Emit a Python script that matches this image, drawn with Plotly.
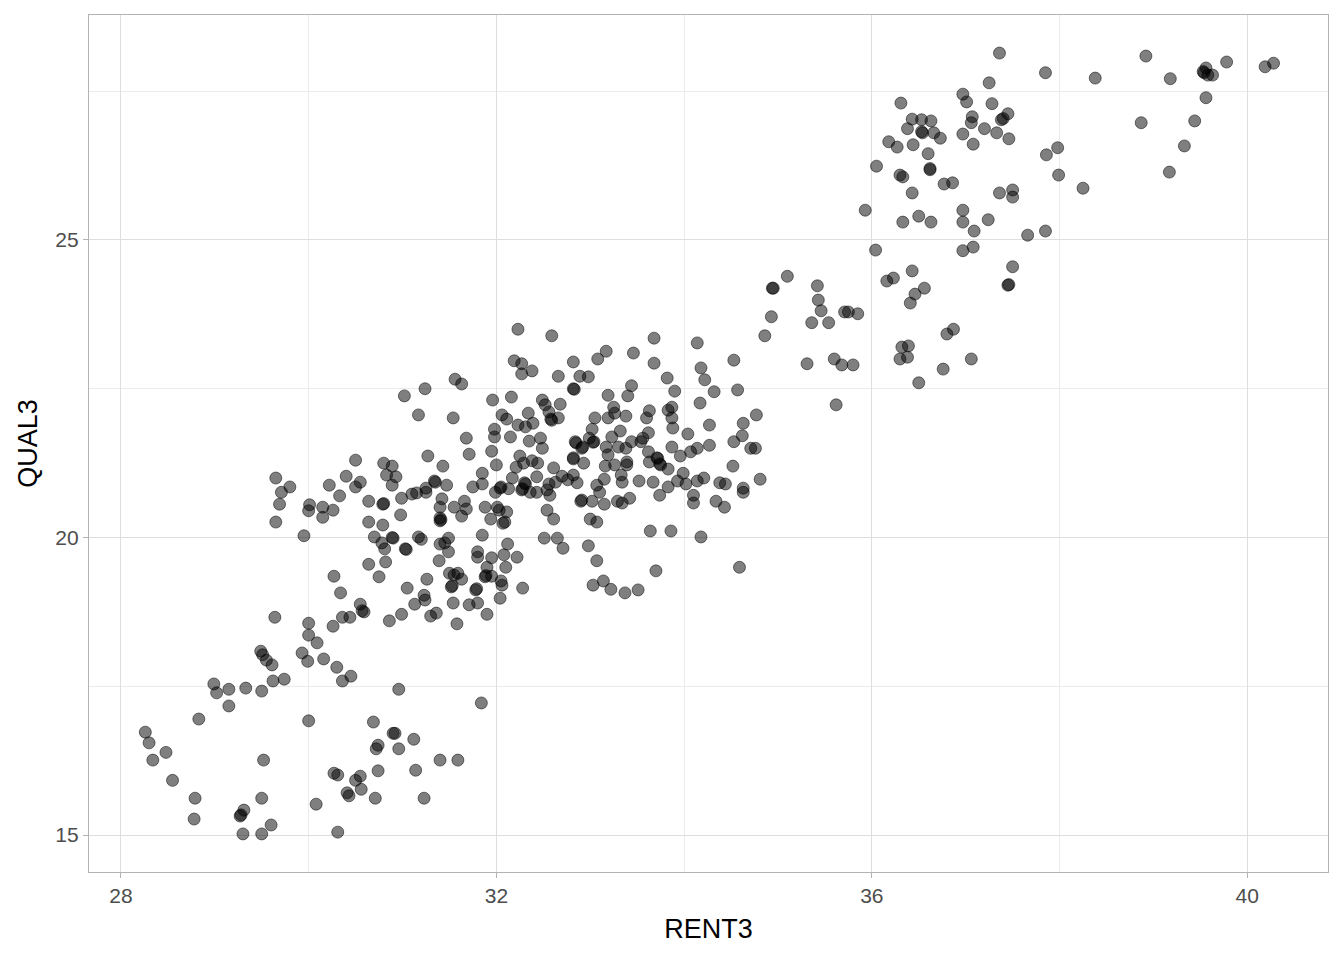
import plotly.graph_objects as go

# RENT3 / QUAL3 values, grouped by area of the plot
rent3_low = [
    29.64, 30.00, 30.00, 30.09, 29.93, 29.99, 30.16, 30.30, 30.45, 30.36,
    30.26, 30.36, 30.44, 30.55, 30.59, 30.57, 30.86, 30.99, 31.13, 31.24,
    31.30, 31.36, 31.54, 31.58, 31.71, 31.80, 31.90, 29.49, 29.51, 29.55,
    29.61, 29.62, 29.74, 28.99, 29.02, 29.15, 29.33, 29.50, 29.15, 28.83,
    30.00, 30.96, 31.84, 28.26, 28.30, 28.48, 28.34, 28.55, 29.52, 28.79,
    28.78, 29.31, 29.27, 29.28, 29.50, 29.60, 29.30, 29.50, 30.08, 30.31,
    30.69, 30.90, 30.92, 31.12, 30.74, 30.72, 30.96, 31.40, 31.59, 30.74,
    31.14, 30.27, 30.31, 30.55, 30.50, 30.56, 30.41, 30.43, 30.71, 31.23,
]
qual3_low = [
    18.66, 18.56, 18.36, 18.23, 18.06, 17.92, 17.96, 17.82, 17.67, 17.59,
    18.51, 18.66, 18.66, 18.88, 18.75, 18.77, 18.60, 18.71, 18.88, 18.95,
    18.68, 18.73, 18.90, 18.55, 18.87, 18.90, 18.71, 18.09, 18.03, 17.94,
    17.86, 17.59, 17.62, 17.54, 17.39, 17.45, 17.47, 17.42, 17.17, 16.95,
    16.92, 17.45, 17.22, 16.73, 16.55, 16.39, 16.26, 15.92, 16.26, 15.62,
    15.27, 15.42, 15.32, 15.34, 15.62, 15.17, 15.02, 15.02, 15.52, 15.05,
    16.90, 16.71, 16.71, 16.61, 16.51, 16.45, 16.45, 16.26, 16.26, 16.08,
    16.09, 16.04, 16.01, 15.99, 15.92, 15.77, 15.71, 15.66, 15.62, 15.62,
]

rent3_left = [
    31.17, 31.54, 31.02, 31.24, 31.56, 31.63, 31.68, 31.71, 31.27, 30.50,
    30.80, 30.89, 31.43, 30.83, 30.93, 30.89, 30.40, 30.55, 30.50, 30.22,
    29.65, 29.80, 29.71, 29.69, 29.65, 30.01, 30.00, 30.15, 30.26, 30.15,
    30.33, 30.64, 30.79, 30.80, 30.99, 31.10, 31.15, 31.25, 31.25, 31.34,
    31.35, 31.47, 31.42, 31.40, 31.55, 31.66, 31.68, 31.63, 31.75, 30.98,
    30.64, 30.79, 31.40, 31.40, 31.41, 29.95, 30.70, 30.78, 30.89, 30.90,
    30.81, 31.03, 31.04, 31.17, 31.20, 31.49, 31.45, 31.40, 31.49, 31.39,
    31.80, 31.80, 30.64, 30.82, 30.75, 30.27, 30.34, 31.05, 31.26, 31.23,
    31.50, 31.55, 31.59, 31.52, 31.53, 31.63, 31.78, 31.79,
]
qual3_left = [
    22.06, 22.01, 22.38, 22.50, 22.66, 22.58, 21.67, 21.40, 21.37, 21.30,
    21.25, 21.20, 21.20, 21.05, 21.02, 20.88, 21.03, 20.93, 20.85, 20.88,
    21.00, 20.85, 20.76, 20.56, 20.26, 20.55, 20.45, 20.51, 20.46, 20.34,
    20.70, 20.61, 20.56, 20.57, 20.66, 20.73, 20.75, 20.83, 20.76, 20.95,
    20.93, 20.88, 20.65, 20.51, 20.51, 20.61, 20.48, 20.36, 20.85, 20.38,
    20.26, 20.21, 20.28, 20.33, 20.30, 20.03, 20.01, 19.91, 20.00, 19.99,
    19.81, 19.81, 19.80, 20.01, 19.97, 19.99, 19.91, 19.89, 19.76, 19.61,
    19.76, 19.67, 19.55, 19.59, 19.34, 19.35, 19.07, 19.15, 19.30, 19.03,
    19.40, 19.37, 19.40, 19.17, 19.19, 19.30, 19.12, 19.14,
]

rent3_mid = [
    32.23, 32.59, 33.68, 34.14, 34.93, 34.86, 32.19, 32.27, 32.27, 32.38,
    32.82, 33.08, 33.17, 33.46, 33.68, 32.66, 32.89, 32.98, 32.82, 32.83,
    33.82, 33.90, 34.18, 34.22, 34.32, 34.53, 34.57, 34.17, 33.44, 33.40,
    33.19, 31.96, 32.16, 32.49, 32.52, 32.68, 32.56, 32.58, 32.59, 32.66,
    32.06, 32.11, 32.23, 32.31, 32.39, 32.34, 31.98, 31.98, 32.15, 31.95,
    32.00, 32.35, 32.47, 32.49, 32.25, 32.21, 32.29, 32.38, 32.44, 32.61,
    33.05, 33.02, 33.19, 33.25, 33.26, 33.38, 33.32, 33.23, 32.99, 32.84,
    32.85, 32.91, 32.92, 33.04, 33.03, 32.82, 32.82, 32.93, 33.17, 33.19,
    33.30, 33.38, 33.44, 33.39, 33.39, 33.26, 33.16, 33.54, 33.56, 33.62,
    33.60, 33.63, 33.83, 33.87, 33.87, 33.88, 34.04, 34.27, 34.27, 34.14,
    34.07, 33.96, 33.87, 33.62, 33.71, 33.72, 33.74, 33.75, 33.83, 33.63,
    34.63, 34.62, 34.53, 34.77, 34.71, 34.76, 34.52, 34.81, 34.63, 34.63,
    34.38, 34.44, 34.21, 34.14, 34.10, 34.10, 34.34, 34.43, 33.99, 33.93,
    34.02, 33.83, 33.74, 33.67, 33.52, 33.42, 33.34, 33.29, 33.15, 33.02,
    32.90, 32.91, 33.10, 33.07, 33.15, 33.33, 33.34, 32.86, 32.82, 32.76,
    32.70, 32.63, 32.56, 32.54, 32.57, 32.43, 32.30, 32.31, 32.27, 32.28,
    32.36, 32.43, 32.17, 32.04, 32.05, 32.13, 31.99, 31.85, 31.85, 31.88,
    32.01, 32.03, 32.11, 31.94, 32.09, 32.07, 32.54, 32.61, 33.00, 33.07,
    33.64, 33.86, 34.18, 32.51, 32.65, 32.71, 32.98, 33.07, 33.70, 34.59,
    32.12, 32.08, 32.22, 31.95, 32.10, 31.90, 31.88, 31.89, 31.95, 32.05,
    32.06, 32.04, 32.28, 33.03, 33.14, 33.22, 33.37, 33.51, 31.85,
]
qual3_mid = [
    23.50, 23.39, 23.35, 23.27, 23.71, 23.39, 22.97, 22.92, 22.75, 22.80,
    22.95, 23.00, 23.13, 23.10, 22.93, 22.71, 22.71, 22.70, 22.50, 22.49,
    22.68, 22.46, 22.85, 22.65, 22.45, 22.98, 22.48, 22.26, 22.55, 22.38,
    22.39, 22.31, 22.36, 22.31, 22.23, 22.24, 22.11, 21.99, 21.97, 22.01,
    22.06, 21.99, 21.89, 21.86, 21.92, 22.09, 21.82, 21.69, 21.69, 21.45,
    21.22, 21.62, 21.67, 21.50, 21.37, 21.18, 21.25, 21.29, 21.25, 21.17,
    22.01, 21.82, 22.01, 22.19, 22.09, 22.04, 21.79, 21.69, 21.67, 21.61,
    21.59, 21.50, 21.52, 21.61, 21.60, 21.34, 21.32, 21.25, 21.52, 21.39,
    21.52, 21.50, 21.61, 21.27, 21.22, 21.22, 21.20, 21.61, 21.67, 21.76,
    22.01, 22.13, 22.14, 22.19, 22.01, 21.84, 21.74, 21.89, 21.55, 21.50,
    21.44, 21.37, 21.52, 21.44, 21.34, 21.33, 21.24, 21.22, 21.15, 21.27,
    21.92, 21.71, 21.61, 22.06, 21.50, 21.50, 21.20, 20.98, 20.83, 20.76,
    20.92, 20.90, 21.00, 20.95, 20.71, 20.58, 20.61, 20.51, 21.08, 20.95,
    20.90, 20.85, 20.71, 20.93, 20.95, 20.66, 20.58, 20.61, 20.56, 20.61,
    20.61, 20.63, 20.76, 20.88, 20.98, 21.05, 20.93, 20.92, 21.05, 20.97,
    21.03, 20.93, 20.90, 20.80, 20.71, 21.02, 20.92, 20.90, 20.80, 20.82,
    20.76, 20.76, 21.00, 20.83, 20.85, 20.82, 20.76, 21.08, 20.90, 20.51,
    20.51, 20.46, 20.43, 20.31, 20.26, 20.24, 20.46, 20.31, 20.31, 20.26,
    20.11, 20.11, 20.01, 19.99, 19.99, 19.82, 19.86, 19.61, 19.44, 19.50,
    19.89, 19.71, 19.67, 19.66, 19.50, 19.50, 19.34, 19.36, 19.35, 19.27,
    19.20, 18.98, 19.15, 19.20, 19.27, 19.13, 19.07, 19.12, 20.04,
]

rent3_upper = [
    34.94, 34.95, 35.10, 36.43, 36.16, 36.23, 36.56, 36.46, 36.41, 36.87,
    36.80, 36.32, 36.39, 36.30, 36.38, 37.06, 36.76, 36.50, 35.42, 35.43,
    35.46, 35.36, 35.54, 35.71, 35.75, 35.85, 35.31, 35.60, 35.68, 35.80,
    35.62, 37.45, 37.46, 37.50,
]
qual3_upper = [
    24.19, 24.19, 24.39, 24.48, 24.31, 24.36, 24.19, 24.09, 23.94, 23.50,
    23.42, 23.20, 23.22, 23.00, 23.03, 23.00, 22.83, 22.60, 24.23, 23.99,
    23.81, 23.61, 23.61, 23.79, 23.79, 23.76, 22.92, 23.00, 22.90, 22.90,
    22.23, 24.24, 24.25, 24.55,
]

rent3_top = [
    37.36, 37.85, 37.25, 36.31, 36.97, 37.01, 37.28, 36.43, 36.53, 36.63,
    36.38, 36.54, 36.53, 36.66, 36.73, 36.18, 36.27, 36.44, 36.60, 37.07,
    37.06, 36.97, 37.20, 37.33, 37.46, 37.08, 37.38, 37.40, 37.45, 36.05,
    36.30, 36.33, 36.62, 36.62, 36.77, 36.86, 36.43, 35.93, 36.33, 36.50,
    36.63, 36.97, 36.97, 37.09, 37.24, 37.36, 37.50, 37.50, 37.66, 37.85,
    37.86, 37.98, 37.99, 36.04, 36.97, 37.08,
    38.92, 38.38, 39.18, 39.56, 39.54, 39.53, 39.58, 39.63, 39.78, 40.19,
    40.28, 39.56, 39.44, 38.87, 39.33, 39.17, 38.25,
]
qual3_top = [
    28.14, 27.81, 27.64, 27.30, 27.45, 27.32, 27.29, 27.03, 27.02, 27.00,
    26.87, 26.80, 26.82, 26.80, 26.71, 26.65, 26.56, 26.60, 26.45, 27.07,
    26.97, 26.78, 26.87, 26.80, 26.70, 26.61, 27.02, 27.04, 27.12, 26.24,
    26.09, 26.06, 26.18, 26.20, 25.94, 25.96, 25.79, 25.50, 25.30, 25.40,
    25.30, 25.50, 25.30, 25.15, 25.34, 25.79, 25.84, 25.72, 25.08, 25.15,
    26.43, 26.55, 26.09, 24.83, 24.82, 24.88,
    28.09, 27.72, 27.71, 27.89, 27.81, 27.83, 27.77, 27.77, 27.99, 27.91,
    27.97, 27.39, 27.00, 26.97, 26.58, 26.14, 25.87,
]

rent3 = rent3_low + rent3_left + rent3_mid + rent3_upper + rent3_top
qual3 = qual3_low + qual3_left + qual3_mid + qual3_upper + qual3_top

x_ticks = [28, 32, 36, 40]
y_ticks = [15, 20, 25]

fig = go.Figure()

fig.add_trace(go.Scatter(
    x=rent3, y=qual3,
    mode='markers',
    marker=dict(size=12, color='rgba(0,0,0,0.5)',
                line=dict(color='rgba(0,0,0,0.5)', width=1)),
    showlegend=False
))

axis_style = dict(
    showline=True, linecolor='#b3b3b3', linewidth=1.3, mirror=True,
    showgrid=True, gridcolor='#dedede', gridwidth=1,
    zeroline=False,
    ticks='outside', ticklen=5, tickcolor='#b3b3b3', tickwidth=1,
    tickfont=dict(size=21, color='#4d4d4d'),
)

# page body adds an 8px offset, so margins are trimmed to keep the panel in place
fig.update_layout(
    width=1344, height=960,
    margin=dict(l=81, r=24, t=7, b=96),
    paper_bgcolor='white', plot_bgcolor='white',
    font=dict(family='Liberation Sans, Arial, sans-serif'),
    xaxis=dict(
        range=[27.66, 40.86], tickvals=x_ticks,
        minor=dict(tickvals=[30, 34, 38], showgrid=True,
                   gridcolor='#ebebeb', gridwidth=0.7, ticks=''),
        title=dict(text='RENT3', font=dict(size=27, color='black'), standoff=12),
        **axis_style
    ),
    yaxis=dict(
        range=[14.38, 28.78], tickvals=y_ticks,
        minor=dict(tickvals=[17.5, 22.5, 27.5], showgrid=True,
                   gridcolor='#ebebeb', gridwidth=0.7, ticks=''),
        title=dict(text='QUAL3', font=dict(size=27, color='black'), standoff=9),
        **axis_style
    ),
)

fig.write_html("out.html")
